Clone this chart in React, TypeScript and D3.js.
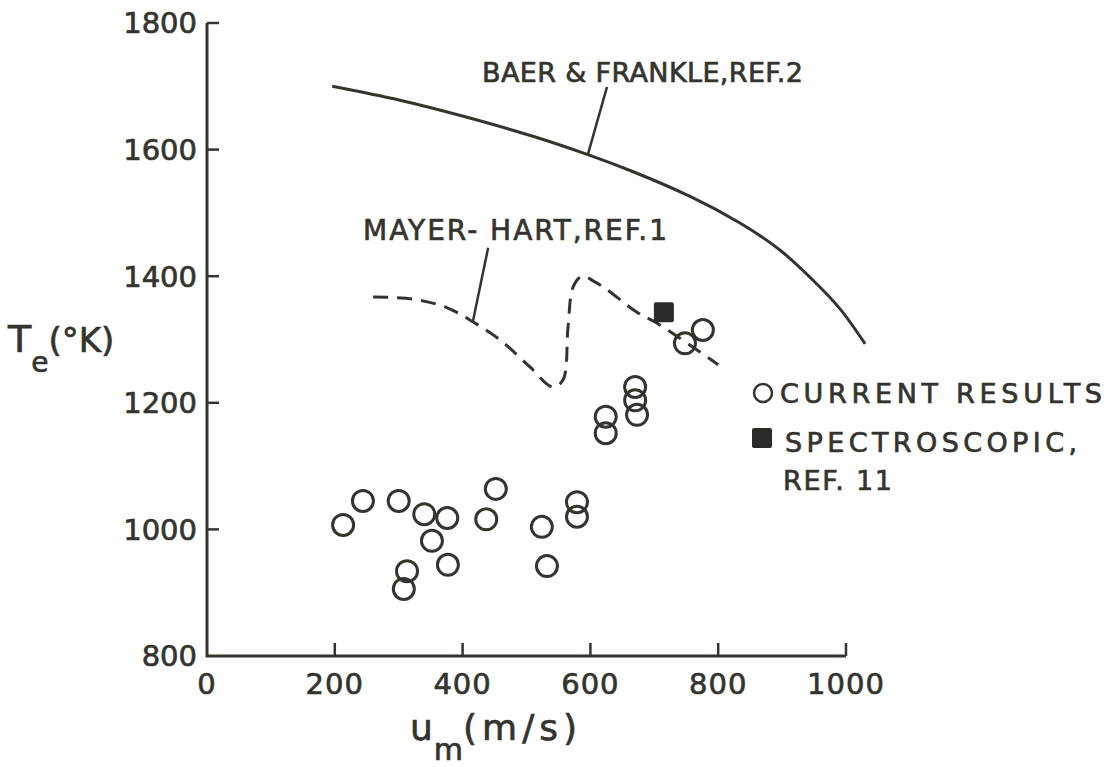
import React from "react"
import * as d3 from "d3"

// Data
const currentU = [213, 244, 300, 340, 376, 352, 313, 308, 377, 437, 452, 524, 532, 579, 579, 624, 624, 670, 670, 673, 748, 776]
const currentT = [1007, 1045, 1045, 1024, 1018, 982, 934, 906, 944, 1016, 1064, 1004, 942, 1043, 1020, 1178, 1152, 1225, 1204, 1181, 1294, 1315]

const spectroU = [715]
const spectroT = [1343]

const baerU = [196, 302, 407, 510, 596, 667, 756, 834, 897, 948, 991, 1030]
const baerT = [1700, 1678, 1651, 1621, 1592, 1565, 1526, 1484, 1441, 1394, 1348, 1293]

const mayerU = [260, 322, 376, 416, 459, 505, 541, 557, 565, 573, 587, 607, 623, 673, 704, 740, 772, 800]
const mayerT = [1367, 1364, 1350, 1328, 1299, 1257, 1225, 1236, 1320, 1383, 1400, 1391, 1381, 1343, 1326, 1302, 1280, 1260]

const xTicks = [0, 200, 400, 600, 800, 1000]
const yTicks = [800, 1000, 1200, 1400, 1600, 1800]

const ink = "#34342f"
const font = "'DejaVu Sans', sans-serif"

export default function App() {
  const totalW = 1120
  const totalH = 767

  // Scales
  const x = d3.scaleLinear().domain([0, 1000]).range([207, 846])
  const y = d3.scaleLinear().domain([800, 1800]).range([656, 23])

  const lineFor = (curve: d3.CurveFactory) =>
    d3
      .line<[number, number]>()
      .x((d) => x(d[0]))
      .y((d) => y(d[1]))
      .curve(curve)

  const baer = baerU.map((u, i) => [u, baerT[i]] as [number, number])
  const mayer = mayerU.map((u, i) => [u, mayerT[i]] as [number, number])

  // heavier lettering
  const txt = { stroke: ink, strokeWidth: 0.7 }

  return (
    <svg
      width={totalW}
      height={totalH}
      style={{ position: "absolute", left: 0, top: 0, background: "#fff" }}
      fontFamily={font}
      fill={ink}
    >
      {/* Axes */}
      <path
        d={`M${x(0)},${y(1800)}V${y(800)}H${x(1000)}`}
        fill="none"
        stroke={ink}
        strokeWidth={3}
      />
      {yTicks
        .filter((t) => t > 800)
        .map((t) => (
          <line key={`yt-${t}`} x1={x(0)} x2={x(0) + 12} y1={y(t)} y2={y(t)} stroke={ink} strokeWidth={2.5} />
        ))}
      {xTicks
        .filter((t) => t > 0)
        .map((t) => (
          <line key={`xt-${t}`} x1={x(t)} x2={x(t)} y1={y(800)} y2={y(800) - 13} stroke={ink} strokeWidth={2.5} />
        ))}
      {yTicks.map((t) => (
        <text key={`yl-${t}`} x={197} y={y(t)} dy="0.36em" textAnchor="end" fontSize={29} {...txt}>
          {t}
        </text>
      ))}
      {xTicks.map((t) => (
        <text key={`xl-${t}`} x={x(t)} y={694} textAnchor="middle" fontSize={29} letterSpacing={1} {...txt}>
          {t}
        </text>
      ))}

      {/* Axis titles */}
      <text x={410} y={740} fontSize={36} {...txt}>
        u
        <tspan fontSize={30} dy={20} dx={1}>m</tspan>
        <tspan dy={-20} letterSpacing={5}>(m/s)</tspan>
      </text>
      <text x={8} y={352} fontSize={38} {...txt}>
        T
        <tspan fontSize={28} dy={20}>e</tspan>
        <tspan dy={-20} fontSize={34}>(°K)</tspan>
      </text>

      {/* Baer & Frankle curve */}
      <path d={lineFor(d3.curveNatural)(baer) || ""} fill="none" stroke={ink} strokeWidth={3} />
      <line x1={x(596)} y1={y(1592)} x2={x(626)} y2={y(1699)} stroke={ink} strokeWidth={2.5} />
      <text x={482} y={82} fontSize={27} textLength={321} lengthAdjust="spacing" {...txt}>
        BAER &amp; FRANKLE,REF.2
      </text>

      {/* Mayer-Hart curve */}
      <path
        d={lineFor(d3.curveCatmullRom.alpha(0.5))(mayer) || ""}
        fill="none"
        stroke={ink}
        strokeWidth={3}
        strokeDasharray="15 9"
      />
      <line x1={x(416)} y1={y(1328)} x2={x(440)} y2={y(1445)} stroke={ink} strokeWidth={2.5} />
      <text x={363} y={240} fontSize={28} textLength={304} lengthAdjust="spacing" {...txt}>
        MAYER- HART,REF.1
      </text>

      {/* Current results */}
      {currentU.map((u, i) => (
        <circle
          key={`c-${i}`}
          cx={x(u)}
          cy={y(currentT[i])}
          r={10.5}
          fill="none"
          stroke={ink}
          strokeWidth={3}
        />
      ))}

      {/* Spectroscopic */}
      {spectroU.map((u, i) => (
        <rect
          key={`s-${i}`}
          x={x(u) - 10}
          y={y(spectroT[i]) - 10}
          width={20}
          height={20}
          rx={2}
          fill="#2b2b27"
        />
      ))}

      {/* Legend */}
      <circle cx={763} cy={393} r={9} fill="none" stroke={ink} strokeWidth={2.5} />
      <text x={780} y={403} fontSize={27} textLength={322} lengthAdjust="spacing" {...txt}>
        CURRENT  RESULTS
      </text>
      <rect x={752} y={428} width={20} height={20} rx={2} fill="#2b2b27" />
      <text x={785} y={452} fontSize={27} textLength={292} lengthAdjust="spacing" {...txt}>
        SPECTROSCOPIC,
      </text>
      <text x={783} y={490} fontSize={27} textLength={109} lengthAdjust="spacing" {...txt}>
        REF. 11
      </text>
    </svg>
  )
}
